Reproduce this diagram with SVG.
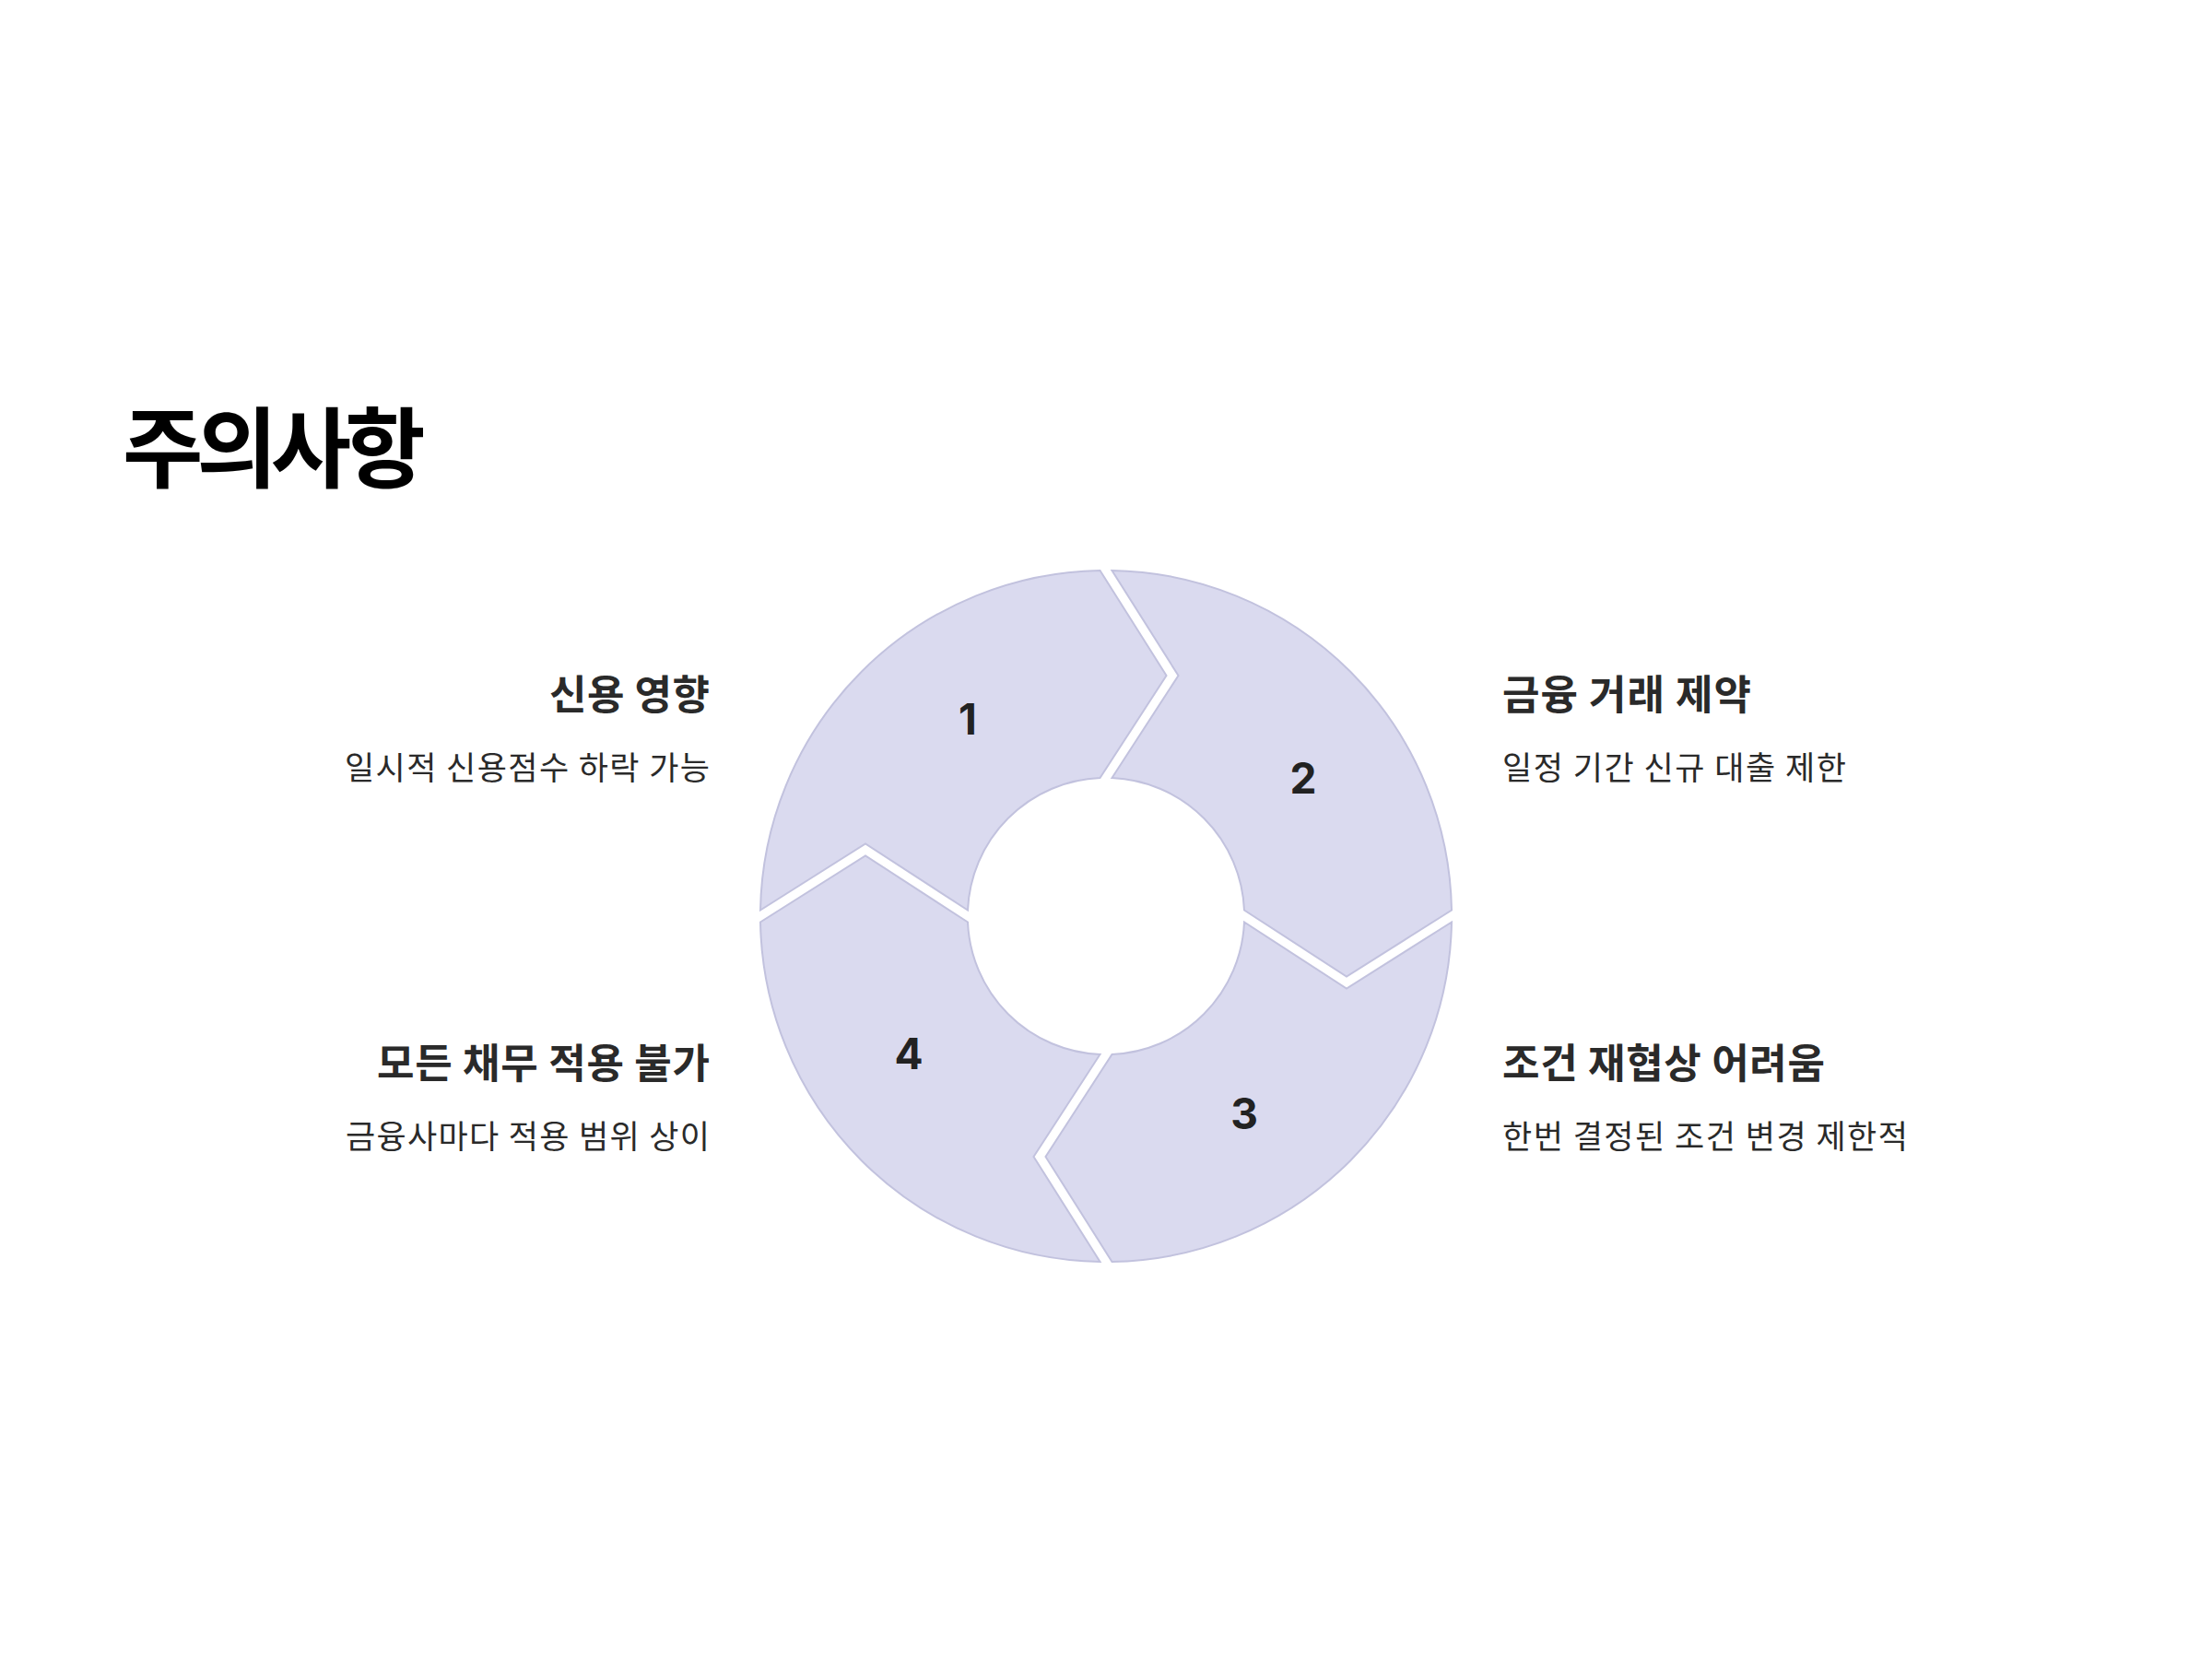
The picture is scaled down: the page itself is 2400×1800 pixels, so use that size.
<svg xmlns="http://www.w3.org/2000/svg" width="2400" height="1800" viewBox="0 0 2400 1800">
<style>
.seg{fill:#DADAEF;stroke:#C2C2DE;stroke-width:2;stroke-linejoin:miter}
.title{font-family:"Noto Sans CJK KR","Noto Sans",sans-serif;font-weight:700;font-size:95px;fill:#000}
.head{font-family:"Noto Sans CJK KR","Noto Sans",sans-serif;font-weight:700;font-size:44px;fill:#2a2a2a}
.sub{font-family:"Noto Sans CJK KR","Noto Sans",sans-serif;font-weight:400;font-size:35px;fill:#2a2a2a}
.num{font-family:Inter,"Liberation Sans",sans-serif;font-weight:700;font-size:46px;fill:#222;text-anchor:middle}
.r{text-anchor:end}
</style>
<rect width="2400" height="1800" fill="#fff"/>
<text class="title" x="133" y="522" letter-spacing="-7">주의사항</text>
<g id="ring">
<g id="seg1">
<path class="seg" d="M 825 987.5 A 375 375 0 0 1 1193.5 619 L 1265.5 733 L 1193.5 844 A 150 150 0 0 0 1050 987.5 L 939 915.5 Z"/>
<text class="num" x="1050" y="797">1</text>
</g>
<g id="seg2">
<path class="seg" d="M 1206.5 619 A 375 375 0 0 1 1575 987.5 L 1461 1059.5 L 1350 987.5 A 150 150 0 0 0 1206.5 844 L 1278.5 733 Z"/>
<text class="num" x="1414" y="861">2</text>
</g>
<g id="seg3">
<path class="seg" d="M 1575 1000.5 A 375 375 0 0 1 1206.5 1369 L 1134.5 1255 L 1206.5 1144 A 150 150 0 0 0 1350 1000.5 L 1461 1072.5 Z"/>
<text class="num" x="1350" y="1225">3</text>
</g>
<g id="seg4">
<path class="seg" d="M 1193.5 1369 A 375 375 0 0 1 825 1000.5 L 939 928.5 L 1050 1000.5 A 150 150 0 0 0 1193.5 1144 L 1121.5 1255 Z"/>
<text class="num" x="986" y="1160">4</text>
</g>
</g>
<g id="item1">
<text class="head r" x="770" y="770" textLength="174" lengthAdjust="spacing">신용 영향</text>
<text class="sub r" x="770" y="846" textLength="396" lengthAdjust="spacing">일시적 신용점수 하락 가능</text>
</g>
<g id="item2">
<text class="head" x="1630" y="770" textLength="270" lengthAdjust="spacing">금융 거래 제약</text>
<text class="sub" x="1630" y="846" textLength="373" lengthAdjust="spacing">일정 기간 신규 대출 제한</text>
</g>
<g id="item3">
<text class="head" x="1630" y="1170" textLength="350" lengthAdjust="spacing">조건 재협상 어려움</text>
<text class="sub" x="1630" y="1246" textLength="440" lengthAdjust="spacing">한번 결정된 조건 변경 제한적</text>
</g>
<g id="item4">
<text class="head r" x="770" y="1170" textLength="361" lengthAdjust="spacing">모든 채무 적용 불가</text>
<text class="sub r" x="770" y="1246" textLength="395" lengthAdjust="spacing">금융사마다 적용 범위 상이</text>
</g>
</svg>
